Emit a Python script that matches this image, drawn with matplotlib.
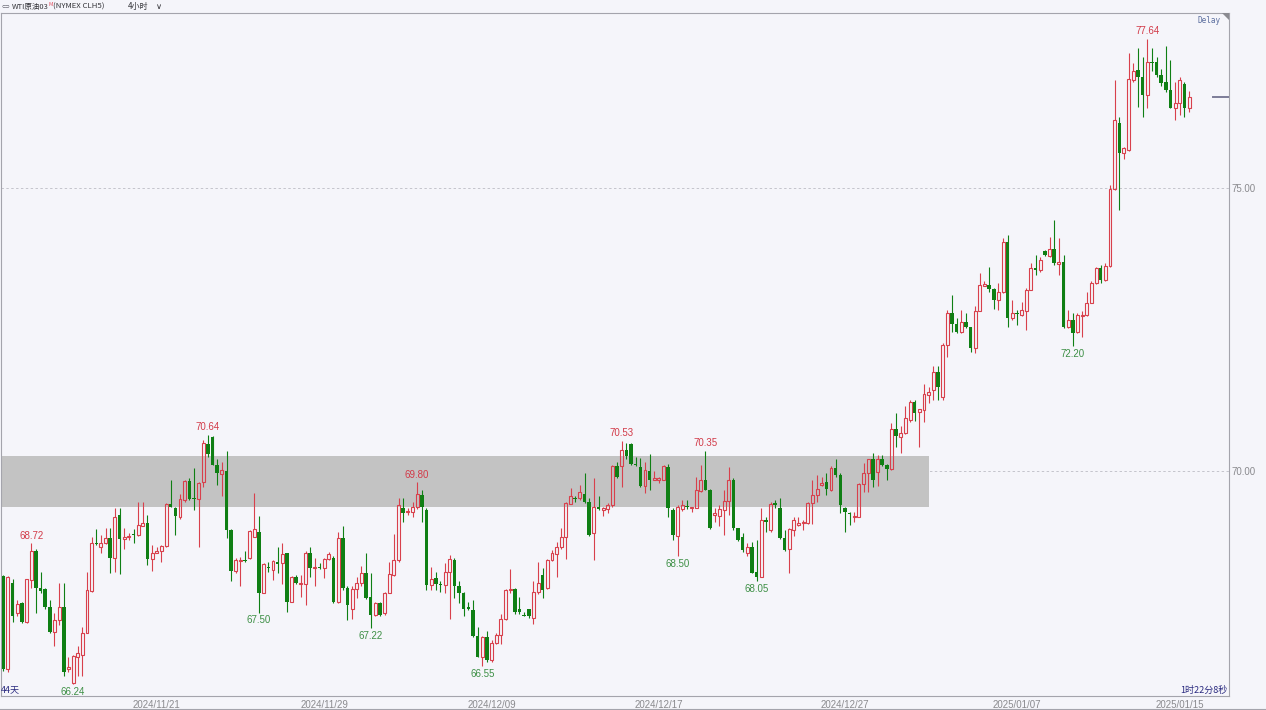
"""
WTI crude 4-hour candlestick chart (NYMEX CLH5), Nov 2024 - Jan 2025,
with the grey resistance zone and the swing high / low labels.
"""

import matplotlib.pyplot as plt
import numpy as np
from matplotlib.lines import Line2D
from matplotlib.patches import Polygon

W, H, DPI = 1266, 710, 100

BG = "#f5f5fa"
RED = "#d8404c"
GREEN = "#0f7f14"
LABEL_RED = "#d23a48"
LABEL_GREEN = "#3d8f45"
FRAME = "#a4a4ac"
TICK_GREY = "#8a8a8e"

# --- Data -----------------------------------------------------------------

OPEN = [
    68.15, 66.50, 68.02, 67.49, 67.66, 67.34, 68.08, 68.59, 67.93, 67.91,
    67.60, 67.16, 67.37, 67.59, 66.50, 66.25, 66.71, 66.75, 67.14, 67.88,
    68.73, 68.66, 68.72, 68.81, 68.47, 69.22, 68.79, 68.83, 68.88, 68.87,
    69.03, 69.09, 68.44, 68.56, 68.59, 68.67, 69.41, 69.34, 69.18, 69.49,
    69.83, 69.52, 69.51, 69.81, 70.48, 70.60, 70.10, 69.95, 70.00, 68.95,
    68.24, 68.41, 68.43, 68.46, 68.84, 68.93, 67.85, 68.31, 68.25, 68.40,
    68.37, 68.55, 67.69, 68.13, 68.01, 68.00, 68.55, 68.28, 68.31, 68.28,
    68.44, 68.47, 67.69, 68.81, 67.93, 67.56, 67.91, 68.02, 68.19, 67.78,
    67.46, 67.67, 67.49, 67.85, 68.17, 68.43, 69.34, 69.28, 69.28, 69.36,
    69.58, 69.31, 67.99, 68.11, 68.01, 67.99, 68.21, 68.43, 67.96, 67.84,
    67.60, 67.55, 67.09, 66.72, 67.06, 66.66, 66.97, 67.10, 67.39, 67.90,
    67.92, 67.57, 67.46, 67.57, 67.40, 67.86, 68.16, 67.93, 68.43, 68.54,
    68.66, 68.84, 69.42, 69.53, 69.53, 69.59, 69.46, 68.90, 69.36, 69.31,
    69.33, 69.40, 70.08, 70.08, 70.37, 70.48, 70.13, 70.07, 69.74, 70.00,
    69.85, 69.84, 69.85, 70.07, 69.32, 68.85, 69.33, 69.38, 69.34, 69.35,
    69.65, 69.85, 69.67, 69.22, 69.20, 69.32, 69.47, 69.85, 68.99, 68.83,
    68.55, 68.66, 68.22, 68.13, 69.13, 68.96, 69.43, 69.34, 68.81, 68.63,
    68.96, 69.04, 69.08, 69.08, 69.43, 69.58, 69.76, 69.81, 69.66, 70.05,
    69.93, 69.34, 69.26, 69.19, 69.19, 69.77, 69.97, 70.22, 69.99, 70.22,
    70.10, 70.03, 70.74, 70.60, 70.67, 70.91, 71.22, 71.05, 71.08, 71.34,
    71.43, 71.75, 71.31, 72.23, 72.80, 72.60, 72.46, 72.64, 72.54, 72.17,
    72.83, 73.27, 73.29, 73.21, 73.02, 73.17, 74.05, 72.70, 72.80, 72.76,
    72.82, 73.20, 73.58, 73.56, 73.88, 73.79, 73.92, 73.65, 73.70, 72.55,
    72.66, 72.46, 72.74, 72.76, 72.97, 73.32, 73.58, 73.37, 73.62, 74.99,
    76.15, 75.61, 75.67, 76.90, 77.08, 76.97, 76.64, 77.23, 77.23, 77.00,
    76.88, 76.74, 76.42, 76.51, 76.84, 76.41,
]

HIGH = [
    68.17, 68.15, 68.09, 67.72, 67.69, 68.09, 68.72, 68.62, 68.22, 67.93,
    67.72, 67.49, 68.03, 68.03, 66.72, 66.75, 66.90, 67.24, 68.22, 68.83,
    68.97, 68.87, 68.99, 68.99, 69.34, 69.34, 68.99, 68.91, 68.97, 69.46,
    69.46, 69.22, 68.70, 68.66, 68.70, 69.43, 69.85, 69.37, 69.59, 69.85,
    69.87, 70.05, 69.81, 70.54, 70.64, 70.62, 70.21, 70.16, 70.36, 68.97,
    68.46, 68.48, 68.59, 68.96, 69.61, 69.20, 68.37, 68.40, 68.43, 68.66,
    68.73, 68.56, 68.15, 68.16, 68.16, 68.58, 68.66, 68.46, 68.37, 68.46,
    68.57, 68.49, 68.93, 69.02, 67.96, 67.96, 68.13, 68.32, 68.56, 68.19,
    67.69, 67.69, 67.87, 68.40, 68.88, 69.52, 69.52, 69.34, 69.46, 69.80,
    69.67, 69.34, 68.31, 68.22, 68.06, 68.37, 68.51, 68.46, 68.05, 67.87,
    67.69, 67.72, 67.25, 67.08, 67.17, 67.01, 67.14, 67.48, 67.91, 68.27,
    67.93, 67.78, 67.51, 67.57, 68.05, 68.40, 68.28, 68.44, 68.61, 68.75,
    68.99, 69.46, 69.70, 69.55, 69.75, 69.96, 69.53, 69.87, 69.55, 69.36,
    69.43, 70.11, 70.16, 70.53, 70.49, 70.50, 70.24, 70.23, 70.16, 70.30,
    70.00, 69.90, 70.11, 70.13, 69.34, 69.40, 69.49, 69.49, 69.37, 69.90,
    70.11, 70.35, 69.69, 69.34, 69.40, 69.66, 70.07, 69.87, 69.00, 68.90,
    68.72, 68.75, 68.78, 69.34, 69.19, 69.46, 69.49, 69.52, 68.95, 68.99,
    69.19, 69.19, 69.13, 69.46, 69.84, 69.93, 69.90, 69.96, 70.08, 70.22,
    69.96, 69.37, 69.28, 69.28, 69.78, 70.14, 70.22, 70.32, 70.28, 70.28,
    70.13, 70.84, 71.03, 70.80, 71.14, 71.25, 71.25, 71.09, 71.54, 71.49,
    71.85, 71.85, 72.26, 72.84, 73.11, 72.70, 72.84, 72.79, 72.55, 72.92,
    73.50, 73.35, 73.61, 73.23, 73.32, 74.11, 74.17, 73.02, 72.84, 72.99,
    73.23, 73.67, 73.82, 73.78, 73.90, 74.14, 74.43, 74.11, 73.82, 72.84,
    72.79, 72.79, 72.82, 73.17, 73.35, 73.61, 73.64, 73.68, 75.05, 76.90,
    76.26, 75.73, 77.38, 77.21, 77.47, 77.31, 77.64, 77.47, 77.32, 77.11,
    77.51, 77.26, 76.88, 76.97, 76.88, 76.72,
]

LOW = [
    66.47, 66.45, 67.34, 67.43, 67.32, 67.32, 67.93, 67.50, 67.84, 67.57,
    67.14, 66.91, 67.28, 66.37, 66.45, 66.24, 66.37, 66.37, 67.13, 67.87,
    68.70, 68.55, 68.71, 68.19, 68.22, 68.18, 68.63, 68.78, 68.72, 68.85,
    69.02, 68.34, 68.24, 68.55, 68.40, 68.66, 69.36, 68.87, 69.16, 69.46,
    69.49, 69.32, 68.66, 69.72, 70.25, 70.11, 69.75, 69.56, 68.81, 68.06,
    68.19, 67.96, 68.40, 68.44, 68.84, 67.50, 67.84, 68.22, 68.07, 68.19,
    68.00, 67.51, 67.68, 68.01, 67.78, 67.63, 68.13, 67.96, 68.27, 68.11,
    68.43, 67.67, 67.67, 67.90, 67.37, 67.38, 67.75, 67.96, 67.73, 67.22,
    67.44, 67.43, 67.46, 67.84, 68.15, 68.40, 69.10, 69.22, 69.19, 69.33,
    69.10, 67.90, 67.89, 67.90, 67.87, 67.84, 67.38, 67.75, 67.66, 67.43,
    67.55, 67.07, 66.72, 66.55, 66.63, 66.62, 66.95, 66.95, 67.37, 67.85,
    67.48, 67.48, 67.43, 67.40, 67.30, 67.83, 67.75, 67.91, 68.41, 68.13,
    68.63, 68.44, 69.41, 69.46, 69.49, 69.44, 68.85, 68.43, 69.32, 69.20,
    69.25, 69.36, 69.87, 69.72, 70.21, 70.11, 70.08, 69.72, 69.62, 69.66,
    69.84, 69.78, 69.84, 69.19, 68.78, 68.50, 69.29, 69.33, 69.27, 69.34,
    69.63, 69.66, 68.97, 69.10, 69.02, 68.87, 69.22, 68.96, 68.77, 68.57,
    68.49, 68.19, 68.05, 68.12, 68.93, 68.93, 69.34, 68.79, 68.59, 68.20,
    68.85, 69.02, 68.96, 69.06, 69.06, 69.46, 69.73, 69.58, 69.65, 69.90,
    69.25, 68.93, 69.05, 69.10, 69.18, 69.63, 69.63, 69.72, 69.73, 70.09,
    69.84, 70.01, 70.43, 70.31, 70.65, 70.87, 70.89, 70.43, 70.87, 71.20,
    71.25, 71.25, 71.25, 72.02, 72.46, 72.43, 72.43, 72.52, 72.11, 72.09,
    72.82, 73.26, 73.17, 72.87, 72.84, 73.15, 72.54, 72.67, 72.58, 72.73,
    72.50, 73.19, 73.46, 73.52, 73.79, 73.78, 73.64, 73.46, 72.52, 72.52,
    72.20, 72.43, 72.37, 72.73, 72.96, 73.30, 73.32, 73.35, 73.61, 74.96,
    74.61, 75.51, 75.66, 76.88, 76.43, 76.26, 76.41, 77.06, 76.96, 76.80,
    76.70, 76.41, 76.20, 76.29, 76.26, 76.35,
]

CLOSE = [
    66.50, 68.13, 67.44, 67.65, 67.34, 68.09, 68.59, 67.93, 67.88, 67.60,
    67.16, 67.37, 67.59, 66.45, 66.53, 66.73, 66.79, 67.14, 67.89, 68.72,
    68.71, 68.73, 68.82, 68.47, 69.19, 68.79, 68.84, 68.85, 68.87, 69.05,
    69.09, 68.44, 68.55, 68.59, 68.68, 69.41, 69.36, 69.20, 69.50, 69.83,
    69.51, 69.51, 69.79, 70.50, 70.30, 70.11, 69.96, 70.02, 68.95, 68.24,
    68.43, 68.43, 68.41, 68.94, 68.97, 67.84, 68.36, 68.28, 68.41, 68.36,
    68.54, 67.69, 68.13, 68.02, 68.03, 68.56, 68.28, 68.31, 68.28, 68.44,
    68.54, 67.69, 68.81, 67.93, 67.63, 67.91, 68.03, 68.19, 67.75, 67.46,
    67.67, 67.46, 67.85, 68.18, 68.43, 69.40, 69.25, 69.30, 69.36, 69.59,
    69.36, 67.99, 68.10, 68.00, 67.99, 68.21, 68.45, 67.96, 67.84, 67.57,
    67.57, 67.09, 66.72, 67.06, 66.66, 66.97, 67.11, 67.39, 67.90, 67.92,
    67.51, 67.51, 67.44, 67.43, 67.87, 68.02, 67.90, 68.43, 68.55, 68.66,
    68.84, 69.43, 69.56, 69.50, 69.63, 69.46, 68.87, 69.36, 69.33, 69.34,
    69.40, 70.08, 69.89, 70.38, 70.27, 70.13, 70.10, 69.74, 70.01, 69.84,
    69.87, 69.87, 70.08, 69.34, 68.87, 69.36, 69.40, 69.37, 69.36, 69.66,
    69.85, 69.67, 68.99, 69.25, 69.33, 69.47, 69.85, 68.99, 68.78, 68.60,
    68.66, 68.20, 68.13, 69.13, 69.10, 69.42, 69.40, 68.81, 68.60, 68.97,
    69.13, 69.08, 69.10, 69.43, 69.58, 69.69, 69.78, 69.69, 70.05, 69.93,
    69.40, 69.28, 69.24, 69.20, 69.77, 69.97, 70.22, 69.84, 70.22, 70.10,
    70.03, 70.74, 70.61, 70.67, 70.93, 71.22, 71.03, 71.09, 71.36, 71.40,
    71.75, 71.49, 72.23, 72.79, 72.60, 72.46, 72.64, 72.54, 72.17, 72.83,
    73.29, 73.30, 73.21, 73.02, 73.17, 74.05, 72.70, 72.80, 72.77, 72.84,
    73.20, 73.58, 73.56, 73.73, 73.82, 73.92, 73.67, 73.70, 72.55, 72.67,
    72.44, 72.76, 72.76, 72.97, 73.32, 73.58, 73.37, 73.62, 74.99, 76.20,
    75.61, 75.70, 76.92, 77.07, 76.97, 76.64, 77.23, 77.20, 77.00, 76.85,
    76.74, 76.42, 76.51, 76.90, 76.41, 76.60,
]

# first 4h bar of each labelled trading day
DATE_POS = [33, 69, 105, 141, 181, 218, 253]
DATE_LABELS = ["2024/11/21", "2024/11/29", "2024/12/09", "2024/12/17",
               "2024/12/27", "2025/01/07", "2025/01/15"]

# swing points that carry a price label (bar index)
SWING_HIGHS = [6, 44, 89, 133, 151, 246]
SWING_LOWS = [15, 55, 79, 103, 145, 162, 230]

PRICE_TICKS = [70.0, 75.0]
ZONE_LOW, ZONE_HIGH = 69.36, 70.27
ZONE_LAST_BAR = 199

Y_MIN, Y_MAX = 66.025, 78.092
BAR_STEP_PX = 4.65
FIRST_BAR_PX = 3.3

# --- Chart ----------------------------------------------------------------

plt.rcParams["font.family"] = ["Liberation Sans", "Noto Sans CJK SC", "DejaVu Sans"]
CJK = ["Noto Sans CJK SC", "DejaVu Sans"]

fig = plt.figure(figsize=(W / DPI, H / DPI), dpi=DPI, facecolor=BG)
ax_left, ax_right, ax_top, ax_bottom = 1, 1229, 13, 696
ax = fig.add_axes([ax_left / W, (H - ax_bottom) / H,
                   (ax_right - ax_left) / W, (ax_bottom - ax_top) / H])
ax.set_facecolor(BG)

x0 = (ax_left - FIRST_BAR_PX) / BAR_STEP_PX
x1 = (ax_right - FIRST_BAR_PX) / BAR_STEP_PX
ax.set_xlim(x0, x1)
ax.set_ylim(Y_MIN, Y_MAX)

o, h, l, c = (np.array(a) for a in (OPEN, HIGH, LOW, CLOSE))
x = np.arange(len(c))
up = c >= o
dn = ~up
body_lo = np.minimum(o, c)
body_hi = np.maximum(o, c)
body_h = np.maximum(body_hi - body_lo, 0.018)

# grid + zone
for p in PRICE_TICKS:
    ax.axhline(p, color="#c4c4cc", lw=0.7, ls=(0, (2.5, 2.5)), zorder=0.5)
ax.fill_between([x0, ZONE_LAST_BAR + 0.1], ZONE_LOW, ZONE_HIGH,
                color="#c3c3c3", lw=0, zorder=1)

# candles: green filled, red hollow
bw = 0.76
ax.vlines(x[dn], l[dn], h[dn], color=GREEN, lw=0.8, zorder=3)
ax.bar(x[dn], body_h[dn], bottom=body_lo[dn], width=bw, color=GREEN, lw=0, zorder=4)
ax.vlines(x[up], body_hi[up], h[up], color=RED, lw=0.8, zorder=3)
ax.vlines(x[up], l[up], body_lo[up], color=RED, lw=0.8, zorder=3)
ax.bar(x[up], body_h[up], bottom=body_lo[up], width=bw - 0.12,
       facecolor="none", edgecolor=RED, lw=0.8, zorder=4)

# swing labels
for i in SWING_HIGHS:
    ax.annotate(f"{HIGH[i]:.2f}", (i, HIGH[i]), xytext=(0, 2), textcoords="offset points",
                ha="center", va="bottom", color=LABEL_RED, fontsize=7, zorder=5)
for i in SWING_LOWS:
    ax.annotate(f"{LOW[i]:.2f}", (i, LOW[i]), xytext=(0, -2), textcoords="offset points",
                ha="center", va="top", color=LABEL_GREEN, fontsize=7, zorder=5)

# last price marker on the right edge
ax.axhline(CLOSE[-1], xmin=1 - 16 / (ax_right - ax_left), xmax=1,
           color="#7c7c98", lw=1.4, zorder=5)

# axes
ax.yaxis.tick_right()
ax.set_yticks(PRICE_TICKS, [f"{p:.2f}" for p in PRICE_TICKS])
ax.set_xticks(DATE_POS, DATE_LABELS)
ax.tick_params(axis="y", length=0, pad=2, labelsize=7, labelcolor=TICK_GREY)
ax.tick_params(axis="x", length=0, pad=3, labelsize=7, labelcolor=TICK_GREY)
for s in ax.spines.values():
    s.set_color(FRAME)
    s.set_linewidth(0.8)

# frame extras
fig.add_artist(Line2D([0, 1], [1.2 / H, 1.2 / H], color=FRAME, lw=0.8))
fig.add_artist(Polygon([((ax_right - 7) / W, 1 - ax_top / H),
                        (ax_right / W, 1 - ax_top / H),
                        (ax_right / W, 1 - (ax_top + 7) / H)],
                       closed=True, color="#8a8a90", lw=0))


def px(xp, yp):
    return xp / W, 1 - yp / H


# header
fig.text(*px(2, 6.5), "⊂⊃", fontsize=3.8, color="#555560", va="center",
         family=["DejaVu Sans"])
fig.text(*px(12, 6.5), "WTI原油03", fontsize=5.4, color="#333338", va="center", family=CJK)
fig.text(*px(48, 4.2), "M", fontsize=4, color="#e05060", va="center", family=CJK)
fig.text(*px(53, 6.5), "(NYMEX CLH5)", fontsize=5.6, color="#333338", va="center", family=CJK)
fig.text(*px(128, 6.5), "4小时", fontsize=5.8, color="#333338", va="center", family=CJK)
fig.text(*px(156, 6.5), "∨", fontsize=6, color="#333338", va="center", family=["DejaVu Sans"])

fig.text(*px(1221, 20.5), "Delay", fontsize=5.5, color="#5a6d9e", va="center", ha="right",
         family=["DejaVu Sans Mono"])
fig.text(*px(1, 690), "44天", fontsize=6.5, color="#2b2b80", va="center", ha="left", family=CJK)
fig.text(*px(1227, 690), "1时22分8秒", fontsize=6.5, color="#2b2b80", va="center", ha="right",
         family=CJK)

fig.savefig("out.png", dpi=DPI, facecolor=BG)
